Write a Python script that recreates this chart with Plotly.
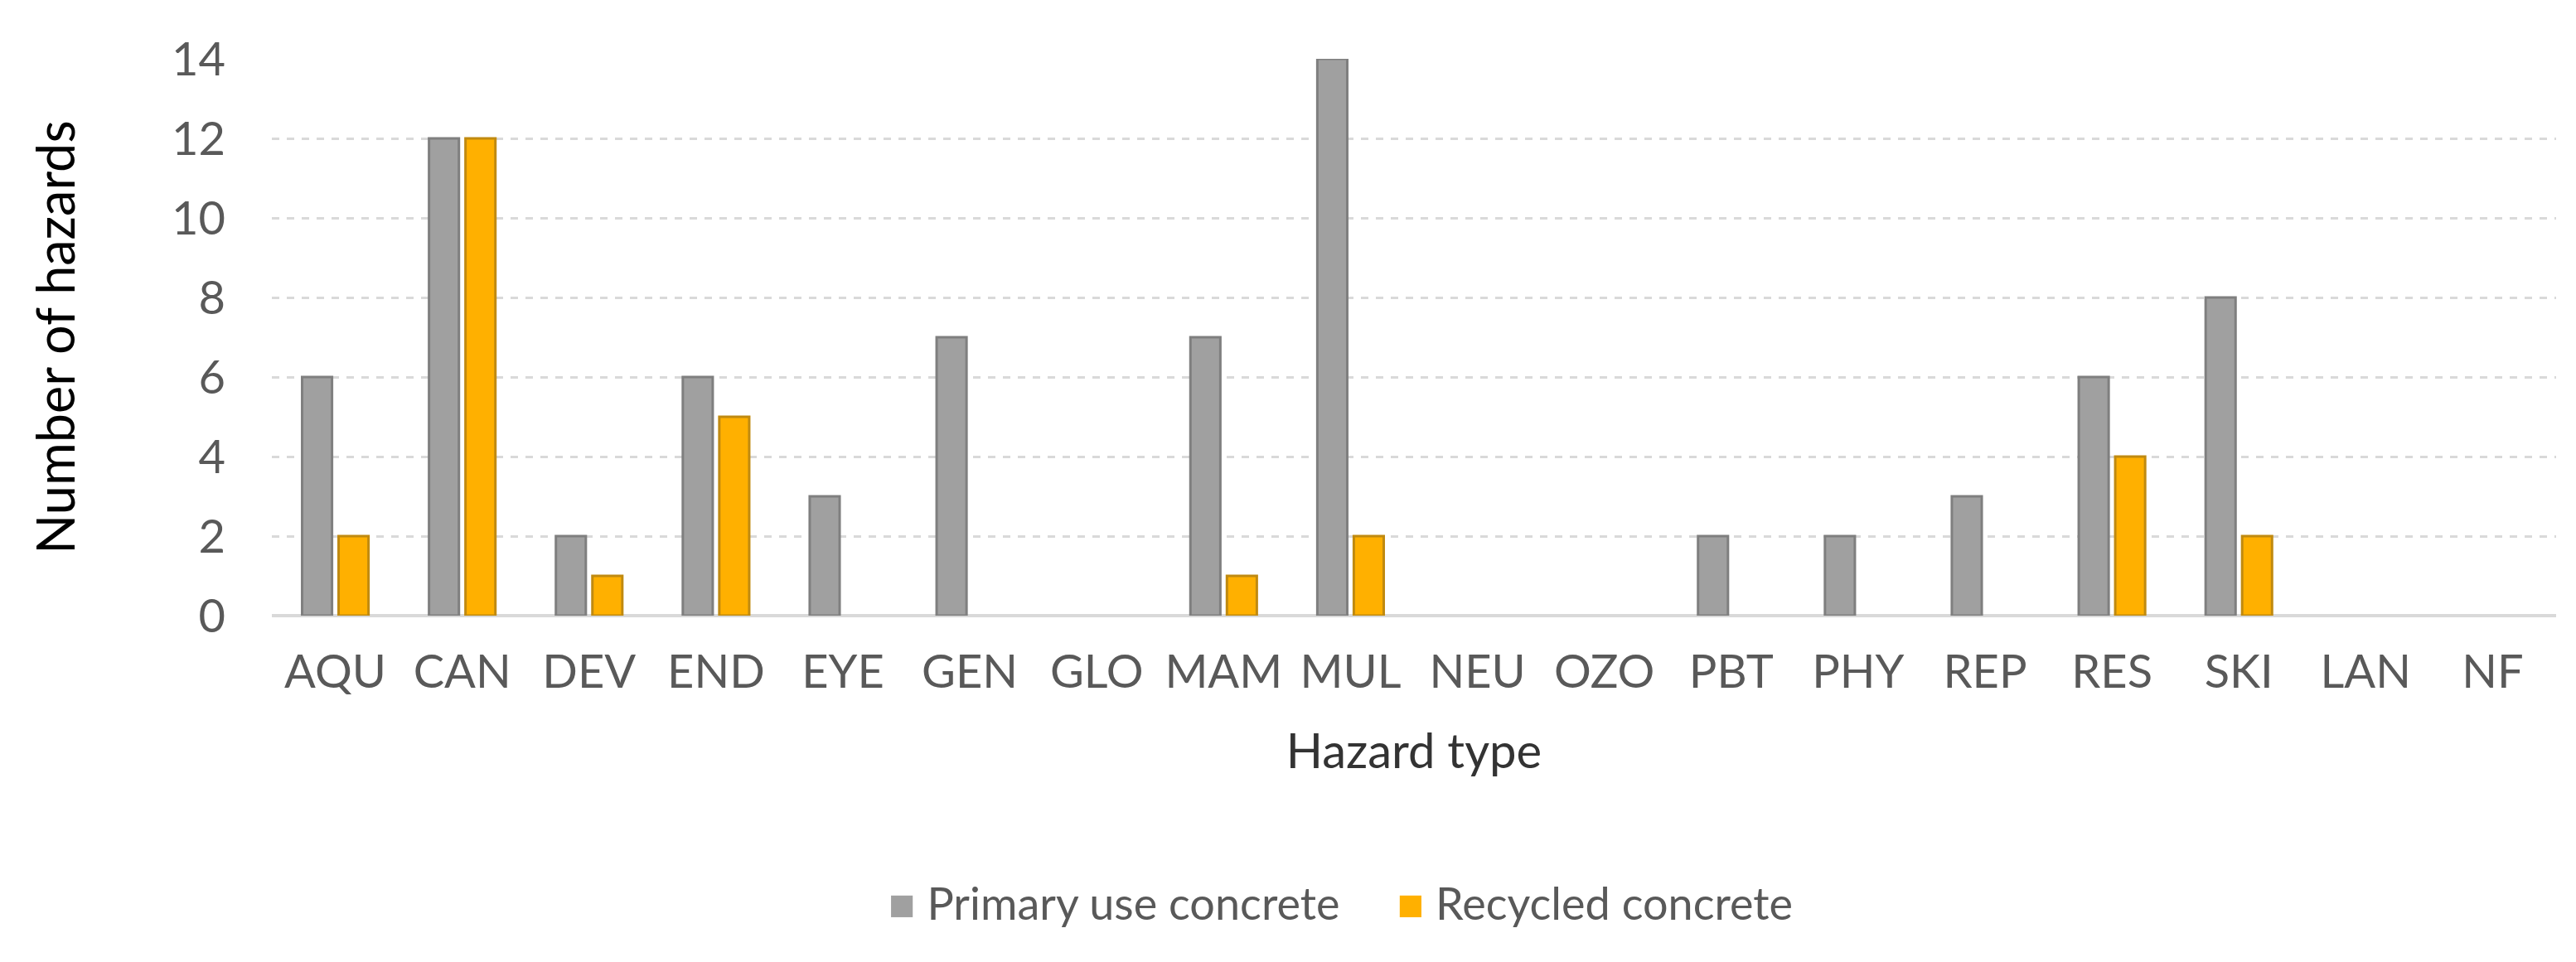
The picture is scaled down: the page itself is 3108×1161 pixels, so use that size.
import plotly.graph_objects as go

hazard_types = ["AQU", "CAN", "DEV", "END", "EYE", "GEN", "GLO", "MAM", "MUL",
                "NEU", "OZO", "PBT", "PHY", "REP", "RES", "SKI", "LAN", "NF"]
primary_use = [6, 12, 2, 6, 3, 7, 0, 7, 14, 0, 0, 2, 2, 3, 6, 8, 0, 0]
recycled = [2, 12, 1, 5, 0, 0, 0, 1, 2, 0, 0, 0, 0, 0, 4, 2, 0, 0]
y_ticks = [0, 2, 4, 6, 8, 10, 12, 14]

series_names = ["Primary use concrete", "Recycled concrete"]
fill_colors = ["#a0a0a0", "#ffb000"]
line_colors = ["#7f7f7f", "#c08a10"]

FONT = "Lato"
TICK_COLOR = "#595959"

fig = go.Figure()
for name, vals, fc, lc in zip(series_names, [primary_use, recycled], fill_colors, line_colors):
    # zero counts are left empty so no outline is drawn on the axis
    fig.add_trace(go.Bar(
        x=hazard_types, y=[v if v else None for v in vals], name=name,
        marker=dict(color=fc, line=dict(color=lc, width=3)),
        showlegend=False,
    ))

# legend drawn as text so the swatches can be as large as in the original
legend_text = "     ".join(
    f"<span style='color:{fc}'>■</span> {name}" for name, fc in zip(series_names, fill_colors)
)
fig.add_annotation(
    text=legend_text, xref="paper", yref="paper", x=0.468, y=-0.515,
    xanchor="center", yanchor="middle", showarrow=False,
    font=dict(family=FONT, size=54, color=TICK_COLOR),
)

fig.update_layout(
    width=3108, height=1161,
    margin=dict(l=320, r=32, t=63, b=426),
    paper_bgcolor="white", plot_bgcolor="white",
    bargap=0.425, bargroupgap=0.18,
    font=dict(family=FONT, size=56, color=TICK_COLOR),
)
fig.update_xaxes(
    showgrid=False, showline=False, ticks="",
    tickfont=dict(family=FONT, size=56, color=TICK_COLOR),
    ticklabelstandoff=30,
    title=dict(text="Hazard type", font=dict(family=FONT, size=58, color="#333333"), standoff=45),
)
fig.update_yaxes(
    range=[0, 14], tickvals=y_ticks,
    showgrid=True, gridcolor="#d9d9d9", gridwidth=3, griddash="dash",
    zeroline=True, zerolinecolor="#d9d9d9", zerolinewidth=4,
    tickfont=dict(family=FONT, size=56, color=TICK_COLOR),
    ticklabelstandoff=55,
    title=dict(text="Number of hazards", font=dict(family=FONT, size=63, color="black"), standoff=95),
)

fig.write_html("out.html")
